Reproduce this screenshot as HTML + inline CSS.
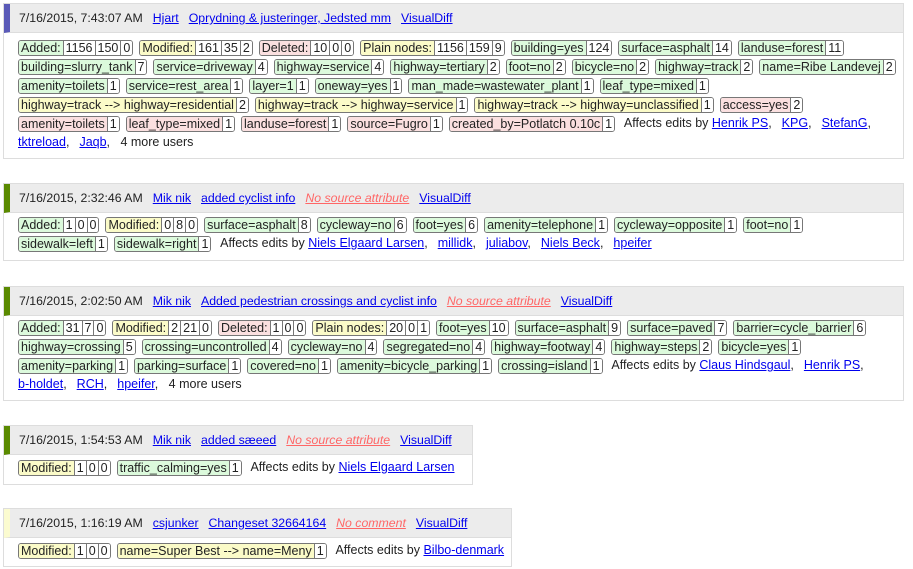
<!DOCTYPE html>
<html><head><meta charset="utf-8"><style>
*{box-sizing:border-box}
body{margin:0;width:913px;height:569px;background:#fff;font-family:"Liberation Sans","DejaVu Sans",sans-serif;font-size:12.5px;color:#222;position:relative;overflow:hidden}
.cs{position:absolute;left:3px;border:1px solid #ddd;background:#fff}
.h{height:29px;line-height:28px;background:#ececec;border-bottom:1px solid #ddd;border-left:6px solid #5a5ab8;padding-left:9px;white-space:nowrap;font-size:12.3px}
.h span,.h a{margin-right:10px}
a{color:#00e;text-decoration:underline}
.ns{color:#f66;font-style:italic;text-decoration:underline}
.r{position:absolute;left:14px;height:16px;line-height:15px;white-space:nowrap}
.t{display:inline-block;height:16px;border:1px solid #777;border-radius:3px;margin-right:6px;vertical-align:top;overflow:hidden}
.t b{font-weight:normal;padding:0 2px;display:inline-block;height:14px}
.t i{font-style:normal;background:#fff;border-left:1px solid #777;padding:0 2px;display:inline-block;height:14px}
.g b{background:#dcfadc}.y b{background:#fbfbc8}.p b{background:#fbe0e0}
.r a{margin-left:10px}
.r a.f{margin-left:0}
</style></head><body>

<div class="cs" style="top:3px;width:901px;height:156px">
<div class="h"><span>7/16/2015, 7:43:07 AM</span><a>Hjart</a><a>Oprydning &amp; justeringer, Jedsted mm</a><a>VisualDiff</a></div>
<div class="r" style="top:36px"><span class="t g"><b>Added:</b><i>1156</i><i>150</i><i>0</i></span><span class="t y"><b>Modified:</b><i>161</i><i>35</i><i>2</i></span><span class="t p"><b>Deleted:</b><i>10</i><i>0</i><i>0</i></span><span class="t y"><b>Plain nodes:</b><i>1156</i><i>159</i><i>9</i></span><span class="t g"><b>building=yes</b><i>124</i></span><span class="t g"><b>surface=asphalt</b><i>14</i></span><span class="t g"><b>landuse=forest</b><i>11</i></span></div>
<div class="r" style="top:55px"><span class="t g"><b>building=slurry_tank</b><i>7</i></span><span class="t g"><b>service=driveway</b><i>4</i></span><span class="t g"><b>highway=service</b><i>4</i></span><span class="t g"><b>highway=tertiary</b><i>2</i></span><span class="t g"><b>foot=no</b><i>2</i></span><span class="t g"><b>bicycle=no</b><i>2</i></span><span class="t g"><b>highway=track</b><i>2</i></span><span class="t g"><b>name=Ribe Landevej</b><i>2</i></span></div>
<div class="r" style="top:74px"><span class="t g"><b>amenity=toilets</b><i>1</i></span><span class="t g"><b>service=rest_area</b><i>1</i></span><span class="t g"><b>layer=1</b><i>1</i></span><span class="t g"><b>oneway=yes</b><i>1</i></span><span class="t g"><b>man_made=wastewater_plant</b><i>1</i></span><span class="t g"><b>leaf_type=mixed</b><i>1</i></span></div>
<div class="r" style="top:93px"><span class="t y"><b>highway=track --&gt; highway=residential</b><i>2</i></span><span class="t y"><b>highway=track --&gt; highway=service</b><i>1</i></span><span class="t y"><b>highway=track --&gt; highway=unclassified</b><i>1</i></span><span class="t p"><b>access=yes</b><i>2</i></span></div>
<div class="r" style="top:112px"><span class="t p"><b>amenity=toilets</b><i>1</i></span><span class="t p"><b>leaf_type=mixed</b><i>1</i></span><span class="t p"><b>landuse=forest</b><i>1</i></span><span class="t p"><b>source=Fugro</b><i>1</i></span><span class="t p"><b>created_by=Potlatch 0.10c</b><i>1</i></span> Affects edits by <a class="f">Henrik PS</a>,<a>KPG</a>,<a>StefanG</a>,</div>
<div class="r" style="top:131px"><a class="f">tktreload</a>,<a>Jaqb</a>, &nbsp;&nbsp;4 more users</div>
</div>

<div class="cs" style="top:183px;width:901px;height:78px">
<div class="h" style="border-left-color:#5a8a00"><span>7/16/2015, 2:32:46 AM</span><a>Mik nik</a><a>added cyclist info</a><a class="ns">No source attribute</a><a>VisualDiff</a></div>
<div class="r" style="top:33px"><span class="t g"><b>Added:</b><i>1</i><i>0</i><i>0</i></span><span class="t y"><b>Modified:</b><i>0</i><i>8</i><i>0</i></span><span class="t g"><b>surface=asphalt</b><i>8</i></span><span class="t g"><b>cycleway=no</b><i>6</i></span><span class="t g"><b>foot=yes</b><i>6</i></span><span class="t g"><b>amenity=telephone</b><i>1</i></span><span class="t g"><b>cycleway=opposite</b><i>1</i></span><span class="t g"><b>foot=no</b><i>1</i></span></div>
<div class="r" style="top:52px"><span class="t g"><b>sidewalk=left</b><i>1</i></span><span class="t g"><b>sidewalk=right</b><i>1</i></span> Affects edits by <a class="f">Niels Elgaard Larsen</a>,<a>millidk</a>,<a>juliabov</a>,<a>Niels Beck</a>,<a>hpeifer</a></div>
</div>

<div class="cs" style="top:286px;width:901px;height:115px">
<div class="h" style="border-left-color:#5a8a00"><span>7/16/2015, 2:02:50 AM</span><a>Mik nik</a><a>Added pedestrian crossings and cyclist info</a><a class="ns">No source attribute</a><a>VisualDiff</a></div>
<div class="r" style="top:33px"><span class="t g"><b>Added:</b><i>31</i><i>7</i><i>0</i></span><span class="t y"><b>Modified:</b><i>2</i><i>21</i><i>0</i></span><span class="t p"><b>Deleted:</b><i>1</i><i>0</i><i>0</i></span><span class="t y"><b>Plain nodes:</b><i>20</i><i>0</i><i>1</i></span><span class="t g"><b>foot=yes</b><i>10</i></span><span class="t g"><b>surface=asphalt</b><i>9</i></span><span class="t g"><b>surface=paved</b><i>7</i></span><span class="t g"><b>barrier=cycle_barrier</b><i>6</i></span></div>
<div class="r" style="top:52px"><span class="t g"><b>highway=crossing</b><i>5</i></span><span class="t g"><b>crossing=uncontrolled</b><i>4</i></span><span class="t g"><b>cycleway=no</b><i>4</i></span><span class="t g"><b>segregated=no</b><i>4</i></span><span class="t g"><b>highway=footway</b><i>4</i></span><span class="t g"><b>highway=steps</b><i>2</i></span><span class="t g"><b>bicycle=yes</b><i>1</i></span></div>
<div class="r" style="top:71px"><span class="t g"><b>amenity=parking</b><i>1</i></span><span class="t g"><b>parking=surface</b><i>1</i></span><span class="t g"><b>covered=no</b><i>1</i></span><span class="t g"><b>amenity=bicycle_parking</b><i>1</i></span><span class="t g"><b>crossing=island</b><i>1</i></span> Affects edits by <a class="f">Claus Hindsgaul</a>,<a>Henrik PS</a>,</div>
<div class="r" style="top:90px"><a class="f">b-holdet</a>,<a>RCH</a>,<a>hpeifer</a>, &nbsp;&nbsp;4 more users</div>
</div>

<div class="cs" style="top:425px;width:470px;height:60px">
<div class="h" style="border-left-color:#5a8a00"><span>7/16/2015, 1:54:53 AM</span><a>Mik nik</a><a>added sæeed</a><a class="ns">No source attribute</a><a>VisualDiff</a></div>
<div class="r" style="top:34px"><span class="t y"><b>Modified:</b><i>1</i><i>0</i><i>0</i></span><span class="t g"><b>traffic_calming=yes</b><i>1</i></span> Affects edits by <a class="f">Niels Elgaard Larsen</a></div>
</div>

<div class="cs" style="top:508px;width:509px;height:59px">
<div class="h" style="border-left-color:#fbfbd0"><span>7/16/2015, 1:16:19 AM</span><a>csjunker</a><a>Changeset 32664164</a><a class="ns">No comment</a><a>VisualDiff</a></div>
<div class="r" style="top:34px"><span class="t y"><b>Modified:</b><i>1</i><i>0</i><i>0</i></span><span class="t y"><b>name=Super Best --&gt; name=Meny</b><i>1</i></span> Affects edits by <a class="f">Bilbo-denmark</a></div>
</div>

</body></html>
